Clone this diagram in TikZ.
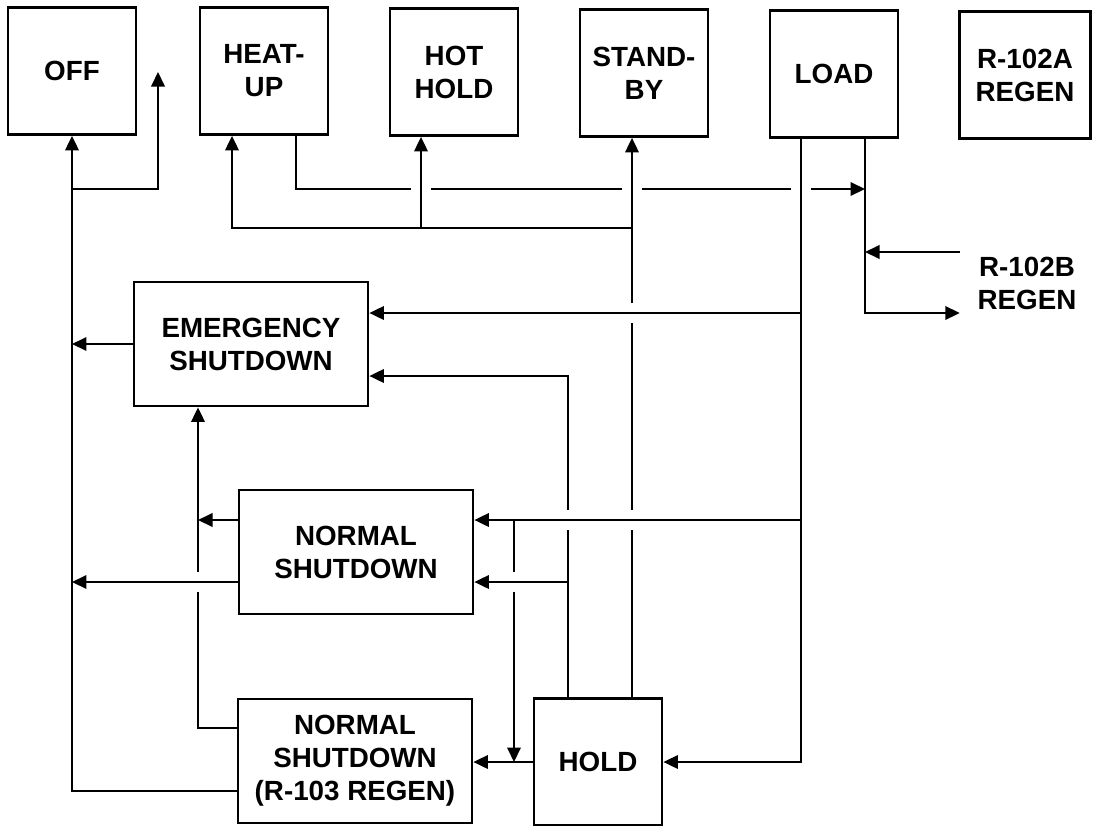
\documentclass[tikz,border=0pt]{standalone}
\usepackage{fontspec}
\setmainfont{Liberation Sans}
\usetikzlibrary{arrows.meta,calc}

\begin{document}
\begin{tikzpicture}[
  x=0.02cm, y=-0.02cm,
  every node/.style={font=\bfseries\fontsize{15.8}{18.8}\selectfont, align=center},
  stbox/.style={draw, line width=1.6pt, minimum width=2.56cm, minimum height=2.54cm, inner sep=0pt},
  widebox/.style={draw, line width=1.6pt, minimum width=4.68cm, minimum height=2.48cm, inner sep=0pt},
  conn/.style={line width=1.1pt},
  arr/.style={conn, -{Triangle[length=0.29cm,width=0.27cm]}}]
  \useasboundingbox (0,0) rectangle (1094,825);
  % states
  \node[stbox] (OFF)  at (72,71)   {OFF};
  \node[stbox] (HU)   at (264,71)  {HEAT-\\UP};
  \node[stbox] (HH)   at (454,72)  {HOT\\HOLD};
  \node[stbox] (SB)   at (644,73)  {STAND-\\BY};
  \node[stbox] (LOAD) at (834,74)  {LOAD};
  \node[stbox, minimum width=2.62cm] (RA) at (1025,75) {R-102A\\REGEN};
  \node[widebox] (ESD) at (251,344) {EMERGENCY\\SHUTDOWN};
  \node[widebox] (NSD) at (356,552) {NORMAL\\SHUTDOWN};
  \node[widebox] (RSD) at (355,761) {NORMAL\\SHUTDOWN\\(R-103 REGEN)};
  \node[stbox] (HOLD) at (598,762) {HOLD};
  \node[inner xsep=0.35cm] (RB) at (1027,283) {R-102B\\REGEN};
  % buses and rows
  \coordinate (offup) at (158,72);
  \coordinate (busE)  at (198,0);
  \coordinate (busHU) at (232,0);
  \coordinate (busHUo) at (296,0);
  \coordinate (busHH) at (421,0);
  \coordinate (busLL) at (514,0);
  \coordinate (busH1) at (568,0);
  \coordinate (busSB) at (632,0);
  \coordinate (busL1) at (801,0);
  \coordinate (busL2) at (865,0);
  \coordinate (rowA)  at (0,189);
  \coordinate (rowB)  at (0,228);
  \coordinate (rowC)  at (0,252);
  \coordinate (rowE1) at (0,313);
  \coordinate (rowE2) at (0,376);
  \coordinate (rowN1) at (0,520);
  \coordinate (rowN2) at (0,582);
  \coordinate (rowR)  at (0,728);
  \coordinate (rowO)  at (0,791);
  % to OFF
  \draw[arr] (RSD.west |- rowO) -| (OFF.south);
  \draw[arr] (OFF.south |- rowA) -| (offup);
  \draw[arr] (ESD.west) -- (ESD.west -| OFF.south);
  \draw[arr] (NSD.west |- rowN2) -- (OFF.south |- rowN2);
  % up to EMERGENCY SHUTDOWN
  \draw[arr] (NSD.west |- rowN1) -- (busE |- rowN1);
  \draw[conn] (RSD.west |- rowR) -| ($(busE |- rowN2)+(0,10)$);
  \draw[arr] ($(busE |- rowN2)+(0,-10)$) -- (ESD.south -| busE);
  % HEAT-UP line, broken where it crosses
  \draw[conn] (HU.south -| busHUo) |- ($(busHH |- rowA)+(-10,0)$);
  \draw[conn] ($(busHH |- rowA)+(10,0)$) -- ($(busSB |- rowA)+(-10,0)$);
  \draw[conn] ($(busSB |- rowA)+(10,0)$) -- ($(busL1 |- rowA)+(-10,0)$);
  \draw[arr] ($(busL1 |- rowA)+(10,0)$) -- (busL2 |- rowA);
  % HOLD up to STAND-BY, HEAT-UP, HOT HOLD
  \draw[conn] (HOLD.north -| busSB) -- ($(busSB |- rowN1)+(0,10)$);
  \draw[conn] ($(busSB |- rowN1)+(0,-10)$) -- ($(busSB |- rowE1)+(0,10)$);
  \draw[arr] ($(busSB |- rowE1)+(0,-10)$) -- (SB.south -| busSB);
  \draw[arr] (busSB |- rowB) -| (HU.south -| busHU);
  \draw[arr] (busHH |- rowB) -- (HH.south -| busHH);
  % HOLD to the shutdowns
  \draw[conn] (HOLD.north -| busH1) -- ($(busH1 |- rowN1)+(0,10)$);
  \draw[arr] ($(busH1 |- rowN1)+(0,-10)$) |- (ESD.east |- rowE2);
  \draw[arr] (busH1 |- rowN2) -- (NSD.east |- rowN2);
  \draw[arr] (HOLD.west) -- (HOLD.west -| RSD.east);
  % LOAD
  \draw[arr] (LOAD.south -| busL1) |- (HOLD.east);
  \draw[arr] (busL1 |- rowE1) -- (ESD.east |- rowE1);
  \draw[arr] (busL1 |- rowN1) -- (NSD.east |- rowN1);
  \draw[conn] (busLL |- rowN1) -- ($(busLL |- rowN2)+(0,-10)$);
  \draw[arr] ($(busLL |- rowN2)+(0,10)$) -- (busLL |- HOLD.west);
  \draw[arr] (LOAD.south -| busL2) |- (RB.west |- rowE1);
  \draw[arr] (RB.west |- rowC) -- (busL2 |- rowC);
\end{tikzpicture}
\end{document}
